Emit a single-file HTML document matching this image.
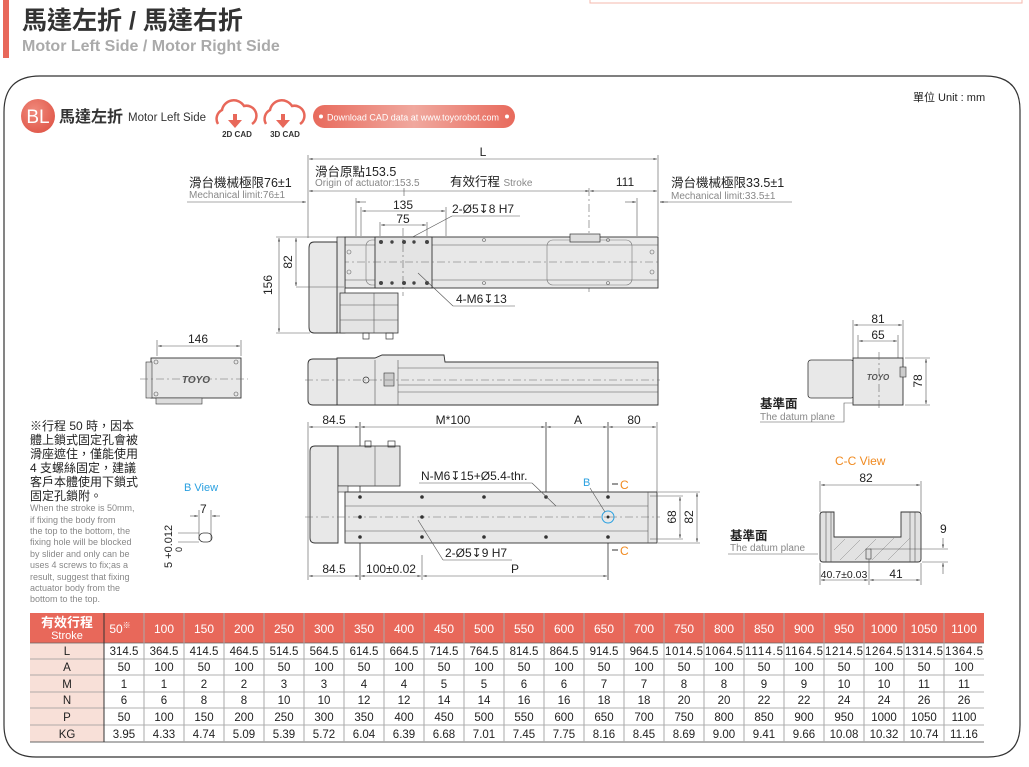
<!DOCTYPE html>
<html><head><meta charset="utf-8">
<style>
html,body{margin:0;padding:0;background:#fff;}
body{width:1029px;height:767px;overflow:hidden;position:relative;font-family:"Liberation Sans","Noto Sans CJK TC",sans-serif;}
svg{position:absolute;left:0;top:0;}
text{font-family:"Liberation Sans","Noto Sans CJK TC",sans-serif;}
.d{font-size:12px;fill:#222;}
.g{font-size:10px;fill:#888;}
.k{stroke:#333;stroke-width:0.8;fill:none;}
.t{stroke:#555;stroke-width:0.6;fill:none;}
.c{stroke:#666;stroke-width:0.6;fill:none;stroke-dasharray:8 3 2 3;}
.b{fill:#e8e8e8;stroke:#333;stroke-width:0.9;}
</style></head><body>
<svg width="1029" height="767" viewBox="0 0 1029 767">
<defs>
<linearGradient id="pill" x1="0" x2="1"><stop offset="0" stop-color="#e86a5c"/><stop offset="0.5" stop-color="#f0a89e"/><stop offset="1" stop-color="#e86a5c"/></linearGradient>
<radialGradient id="bl" cx="0.4" cy="0.35" r="0.7"><stop offset="0" stop-color="#f08a7c"/><stop offset="1" stop-color="#e0584a"/></radialGradient>
<marker id="a" viewBox="0 0 6 6" refX="6" refY="3" markerWidth="6" markerHeight="6" orient="auto-start-reverse"><path d="M0,1.5L6,3L0,4.5z" fill="#333"/></marker>
</defs>
<rect x="590" y="-2" width="432" height="5" fill="none" stroke="#f5b8ae" stroke-width="1"/>
<rect x="3" y="0" width="6" height="58" fill="#e8685a"/>
<text x="22" y="29" font-size="25" fill="#333" font-weight="bold">馬達左折 / 馬達右折</text>
<text x="22" y="51" font-size="16" fill="#aaa" font-weight="bold">Motor Left Side / Motor Right Side</text>
<path d="M40,76 H985 Q1020,76 1020,110 V725 Q1020,757 988,757 H36 Q4,757 4,725 V112 Q4,76 40,76 Z" fill="none" stroke="#333" stroke-width="1.2"/>
<circle cx="38" cy="116" r="17" fill="url(#bl)"/>
<text x="38" y="123" font-size="19" fill="#fff" text-anchor="middle">BL</text>
<text x="59" y="122" font-size="16" font-weight="bold" fill="#333">馬達左折</text>
<text x="128" y="121" font-size="11.5" fill="#333">Motor Left Side</text>
<g fill="none" stroke="#e8685a" stroke-width="2.5">
<path d="M218,124 a10,10 0 0 1 4,-14 a12,12 0 0 1 22,-4 a10,10 0 0 1 8,18"/>
<path d="M266,124 a10,10 0 0 1 4,-14 a12,12 0 0 1 22,-4 a10,10 0 0 1 8,18"/>
</g>
<path d="M228,116h5v-6h4v6h5l-7,8z" fill="#e8685a" transform="translate(0,4)"/>
<path d="M276,116h5v-6h4v6h5l-7,8z" fill="#e8685a" transform="translate(0,4)"/>
<text x="237" y="137" font-size="8" font-weight="bold" fill="#333" text-anchor="middle">2D CAD</text>
<text x="285" y="137" font-size="8" font-weight="bold" fill="#333" text-anchor="middle">3D CAD</text>
<rect x="313" y="105" width="202" height="23" rx="11.5" fill="url(#pill)"/>
<circle cx="321" cy="116.5" r="2" fill="#fff"/><circle cx="507" cy="116.5" r="2" fill="#fff"/>
<text x="327" y="120.5" font-size="9.5" fill="#fff" textLength="172" lengthAdjust="spacingAndGlyphs">Download CAD data at www.toyorobot.com</text>
<text x="913" y="101" font-size="11" fill="#222">單位 Unit : mm</text>

<!-- TOP VIEW -->
<line x1="308" y1="155" x2="308" y2="238" class="t"/>
<line x1="658" y1="155" x2="658" y2="236" class="t"/>
<line x1="309" y1="159" x2="657" y2="159" class="t" marker-start="url(#a)" marker-end="url(#a)"/>
<text x="483" y="156" class="d" text-anchor="middle">L</text>
<text x="315" y="176" font-size="12.5" fill="#222">滑台原點153.5</text>
<text x="315" y="186" class="g">Origin of actuator:153.5</text>
<line x1="309" y1="191" x2="589" y2="191" class="t" marker-start="url(#a)" marker-end="url(#a)"/>
<line x1="404" y1="188" x2="404" y2="196" class="t"/>
<text x="450" y="186" font-size="12.5" fill="#222">有效行程 <tspan font-size="10" fill="#888">Stroke</tspan></text>
<line x1="590" y1="191" x2="657" y2="191" class="t" marker-start="url(#a)" marker-end="url(#a)"/>
<line x1="589" y1="188" x2="589" y2="295" class="c"/>
<text x="625" y="186" class="d" text-anchor="middle">111</text>
<text x="189" y="187" font-size="12.5" fill="#222">滑台機械極限76±1</text>
<text x="189" y="198" class="g">Mechanical limit:76±1</text>
<line x1="187" y1="202" x2="306" y2="202" class="t" marker-end="url(#a)"/>
<text x="671" y="187" font-size="12.5" fill="#222">滑台機械極限33.5±1</text>
<text x="671" y="199" class="g">Mechanical limit:33.5±1</text>
<line x1="660" y1="202" x2="792" y2="202" class="t"/>
<line x1="668" y1="202" x2="660" y2="202" class="t" marker-end="url(#a)"/>
<line x1="625" y1="202" x2="636" y2="202" class="t" marker-end="url(#a)"/>
<line x1="637" y1="198" x2="637" y2="236" class="t"/>
<line x1="356" y1="202" x2="366" y2="202" class="t" marker-start="url(#a)"/>
<line x1="356" y1="198" x2="356" y2="236" class="t"/>
<line x1="362" y1="211" x2="445" y2="211" class="t" marker-start="url(#a)" marker-end="url(#a)"/>
<line x1="361" y1="207" x2="361" y2="236" class="t"/><line x1="446" y1="207" x2="446" y2="236" class="t"/>
<text x="403" y="209" class="d" text-anchor="middle">135</text>
<line x1="381" y1="225" x2="426" y2="225" class="t" marker-start="url(#a)" marker-end="url(#a)"/>
<line x1="380" y1="222" x2="380" y2="236" class="t"/><line x1="427" y1="222" x2="427" y2="236" class="t"/>
<text x="403" y="223" class="d" text-anchor="middle">75</text>
<text x="452" y="213" class="d">2-Ø5↧8 H7</text>
<line x1="452" y1="216" x2="520" y2="216" class="t"/><line x1="452" y1="216" x2="392" y2="248" class="t"/>
<rect x="345" y="237" width="313" height="51" class="b"/>
<line x1="345" y1="245" x2="658" y2="245" class="t"/><line x1="345" y1="280" x2="658" y2="280" class="t"/>
<rect x="366" y="240" width="44" height="45" rx="6" fill="none" stroke="#777" stroke-width="0.6"/>
<rect x="547" y="240" width="85" height="45" rx="6" fill="none" stroke="#777" stroke-width="0.6"/>
<rect x="375" y="237" width="57" height="51" fill="#e4e4e4" stroke="#333" stroke-width="0.9"/>
<rect x="570" y="234" width="30" height="8" fill="#ddd" stroke="#333" stroke-width="0.7"/>
<line x1="309" y1="262" x2="660" y2="262" class="c"/>
<line x1="403" y1="228" x2="403" y2="296" class="c"/>
<g fill="#444"><circle cx="381" cy="242" r="2"/><circle cx="392" cy="242" r="1.7"/><circle cx="404" cy="242" r="2"/><circle cx="414" cy="242" r="1.7"/><circle cx="427" cy="242" r="2"/>
<circle cx="381" cy="283" r="2"/><circle cx="392" cy="283" r="1.7"/><circle cx="404" cy="283" r="2"/><circle cx="414" cy="283" r="1.7"/><circle cx="427" cy="283" r="2"/></g>
<g fill="none" stroke="#666" stroke-width="0.6"><circle cx="484" cy="240" r="1.5"/><circle cx="484" cy="283" r="1.5"/><circle cx="608" cy="240" r="1.5"/><circle cx="608" cy="283" r="1.5"/><circle cx="349" cy="252" r="2"/><circle cx="349" cy="272" r="2"/><circle cx="652" cy="252" r="2"/><circle cx="652" cy="272" r="2"/></g>
<rect x="337" y="237" width="8" height="96" fill="#e4e4e4" stroke="#333" stroke-width="0.8"/>
<path d="M314,242 H337 V333 H314 Q309,333 309,327 V248 Q309,242 314,242 Z" fill="#e8e8e8" stroke="#333" stroke-width="0.9"/>
<rect x="340" y="293" width="58" height="40" fill="#e4e4e4" stroke="#333" stroke-width="0.8"/>
<line x1="374" y1="293" x2="374" y2="333" class="t"/><line x1="340" y1="305" x2="398" y2="305" class="t"/><line x1="340" y1="320" x2="398" y2="320" class="t"/>
<rect x="363" y="333" width="6" height="6" fill="none" stroke="#333" stroke-width="0.7"/><rect x="386" y="333" width="7" height="6" fill="none" stroke="#333" stroke-width="0.7"/>
<text x="456" y="303" class="d">4-M6↧13</text>
<line x1="453" y1="306" x2="515" y2="306" class="t"/><line x1="453" y1="306" x2="418" y2="273" class="t"/>
<line x1="276" y1="237" x2="344" y2="237" class="t"/><line x1="276" y1="333" x2="310" y2="333" class="t"/>
<line x1="296" y1="287" x2="344" y2="287" class="t"/>
<line x1="279" y1="238" x2="279" y2="332" class="t" marker-start="url(#a)" marker-end="url(#a)"/>
<line x1="296" y1="238" x2="296" y2="286" class="t" marker-start="url(#a)" marker-end="url(#a)"/>
<text transform="translate(272,285) rotate(-90)" class="d" text-anchor="middle">156</text>
<text transform="translate(292,262) rotate(-90)" class="d" text-anchor="middle">82</text>

<!-- SIDE VIEW -->
<path d="M337,358 H375 L382,355 H444 L445,362 H658 V405 H337 Z" fill="#e8e8e8" stroke="#333" stroke-width="0.9"/>
<line x1="375" y1="360" x2="375" y2="405" class="t"/><line x1="398" y1="360" x2="398" y2="405" class="t"/>
<line x1="398" y1="368" x2="658" y2="368" class="t"/><line x1="398" y1="385" x2="658" y2="385" class="t"/><line x1="398" y1="392" x2="658" y2="392" class="t"/>
<path d="M313,359 H337 V405 H313 Q308,405 308,400 V364 Q308,359 313,359 Z" fill="#e8e8e8" stroke="#333" stroke-width="0.9"/>
<rect x="384" y="373" width="10" height="13" fill="#ccc" stroke="#333" stroke-width="0.6"/>
<circle cx="366" cy="380" r="3" fill="none" stroke="#333" stroke-width="0.7"/>
<line x1="305" y1="380" x2="660" y2="380" class="c"/>

<!-- left small view -->
<line x1="157" y1="340" x2="157" y2="356" class="t"/><line x1="241" y1="340" x2="241" y2="356" class="t"/>
<line x1="158" y1="346" x2="240" y2="346" class="t" marker-start="url(#a)" marker-end="url(#a)"/>
<text x="198" y="343" class="d" text-anchor="middle">146</text>
<rect x="151" y="358" width="90" height="40" fill="#e8e8e8" stroke="#333" stroke-width="0.9"/>
<rect x="146" y="362" width="6" height="36" fill="#ddd" stroke="#333" stroke-width="0.6"/>
<rect x="156" y="398" width="46" height="6" fill="#ddd" stroke="#333" stroke-width="0.6"/>
<g fill="none" stroke="#555" stroke-width="0.6"><circle cx="156" cy="362" r="2"/><circle cx="236" cy="362" r="2"/><circle cx="156" cy="394" r="2"/><circle cx="236" cy="394" r="2"/></g>
<text x="196" y="383" font-size="10" font-style="italic" font-weight="bold" fill="#555" text-anchor="middle">TOYO</text>
<line x1="140" y1="379" x2="248" y2="379" class="c"/>

<g font-size="12" fill="#222">
<text x="30" y="430">※行程 50 時，因本</text>
<text x="30" y="444">體上鎖式固定孔會被</text>
<text x="30" y="458">滑座遮住，僅能使用</text>
<text x="30" y="472">4 支螺絲固定，建議</text>
<text x="30" y="486">客戶本體使用下鎖式</text>
<text x="30" y="500">固定孔鎖附。</text>
</g>
<g font-size="9" fill="#888">
<text x="30" y="511">When the stroke is 50mm,</text>
<text x="30" y="523">if fixing the body from</text>
<text x="30" y="534">the top to the bottom, the</text>
<text x="30" y="545">fixing hole will be blocked</text>
<text x="30" y="557">by slider and only can be</text>
<text x="30" y="568">uses 4 screws to fix;as a</text>
<text x="30" y="580">result, suggest that fixing</text>
<text x="30" y="591">actuator body from the</text>
<text x="30" y="602">bottom to the top.</text>
</g>
<text x="184" y="491" font-size="11" fill="#2aa0e0">B View</text>
<text x="200" y="513" class="d">7</text>
<line x1="199" y1="510" x2="199" y2="540" class="t"/><line x1="211" y1="510" x2="211" y2="540" class="t"/>
<line x1="190" y1="516" x2="198" y2="516" class="t" marker-end="url(#a)"/><line x1="220" y1="516" x2="212" y2="516" class="t" marker-end="url(#a)"/>
<rect x="199" y="533" width="13" height="9" rx="4.5" fill="none" stroke="#333" stroke-width="0.8"/>
<line x1="178" y1="533" x2="199" y2="533" class="t"/><line x1="178" y1="542" x2="199" y2="542" class="t"/>
<text transform="translate(172,568) rotate(-90)" font-size="11" fill="#222">5 +0.012</text>
<text transform="translate(182,552) rotate(-90)" font-size="9" fill="#222">0</text>

<!-- BOTTOM VIEW -->
<line x1="308" y1="422" x2="308" y2="580" class="t"/>
<line x1="360" y1="422" x2="360" y2="580" class="k"/>
<line x1="422" y1="555" x2="422" y2="580" class="t"/>
<line x1="546" y1="422" x2="546" y2="492" class="k"/>
<line x1="608" y1="422" x2="608" y2="580" class="k"/>
<line x1="657" y1="422" x2="657" y2="492" class="t"/>
<line x1="309" y1="427" x2="359" y2="427" class="t" marker-start="url(#a)" marker-end="url(#a)"/>
<line x1="361" y1="427" x2="545" y2="427" class="t" marker-start="url(#a)" marker-end="url(#a)"/>
<line x1="547" y1="427" x2="607" y2="427" class="t" marker-start="url(#a)" marker-end="url(#a)"/>
<line x1="609" y1="427" x2="656" y2="427" class="t" marker-start="url(#a)" marker-end="url(#a)"/>
<text x="334" y="424" class="d" text-anchor="middle">84.5</text>
<text x="453" y="424" class="d" text-anchor="middle">M*100</text>
<text x="578" y="424" class="d" text-anchor="middle">A</text>
<text x="634" y="424" class="d" text-anchor="middle">80</text>
<path d="M315,446 H338 V543 H315 Q310,543 310,538 V451 Q310,446 315,446 Z" fill="#e8e8e8" stroke="#333" stroke-width="0.9"/>
<rect x="338" y="446" width="62" height="40" fill="#e4e4e4" stroke="#333" stroke-width="0.8"/>
<line x1="375" y1="446" x2="375" y2="486" class="t"/>
<rect x="365" y="441" width="6" height="6" fill="none" stroke="#333" stroke-width="0.7"/><rect x="388" y="441" width="7" height="6" fill="none" stroke="#333" stroke-width="0.7"/>
<rect x="338" y="486" width="10" height="6" fill="#e4e4e4" stroke="#333" stroke-width="0.6"/>
<rect x="345" y="492" width="312" height="51" fill="#e8e8e8" stroke="#333" stroke-width="0.9"/>
<line x1="345" y1="506" x2="648" y2="506" class="t"/><line x1="345" y1="531" x2="648" y2="531" class="t"/><line x1="648" y1="492" x2="648" y2="543" class="t"/>
<line x1="305" y1="517" x2="660" y2="517" class="c"/>
<g fill="#333"><circle cx="360" cy="497" r="1.8"/><circle cx="422" cy="497" r="1.8"/><circle cx="484" cy="497" r="1.8"/><circle cx="546" cy="497" r="1.8"/><circle cx="608" cy="497" r="1.8"/>
<circle cx="360" cy="537" r="1.8"/><circle cx="422" cy="537" r="1.8"/><circle cx="484" cy="537" r="1.8"/><circle cx="546" cy="537" r="1.8"/><circle cx="608" cy="537" r="1.8"/>
<circle cx="360" cy="517" r="1.8"/><circle cx="422" cy="517" r="1.8"/><circle cx="608" cy="517" r="1.5"/></g>
<circle cx="608" cy="517" r="6" fill="none" stroke="#2aa0e0" stroke-width="1"/>
<text x="583" y="486" font-size="11" fill="#2aa0e0">B</text><line x1="590" y1="488" x2="605" y2="512" class="t"/>
<text x="620" y="489" font-size="12" fill="#f08a20">C</text><text x="620" y="555" font-size="12" fill="#f08a20">C</text>
<line x1="612" y1="484" x2="618" y2="484" stroke="#333"/><line x1="612" y1="550" x2="618" y2="550" stroke="#333"/>
<text x="421" y="480" class="d">N-M6↧15+Ø5.4-thr.</text>
<line x1="419" y1="483" x2="532" y2="483" class="t"/><line x1="532" y1="483" x2="556" y2="506" class="t"/>
<text x="445" y="557" class="d">2-Ø5↧9 H7</text>
<line x1="443" y1="560" x2="512" y2="560" class="t"/><line x1="443" y1="560" x2="418" y2="520" class="t"/>
<line x1="309" y1="576" x2="359" y2="576" class="t" marker-start="url(#a)" marker-end="url(#a)"/>
<line x1="361" y1="576" x2="421" y2="576" class="t" marker-start="url(#a)" marker-end="url(#a)"/>
<line x1="423" y1="576" x2="607" y2="576" class="t" marker-start="url(#a)" marker-end="url(#a)"/>
<text x="334" y="573" class="d" text-anchor="middle">84.5</text>
<text x="391" y="573" class="d" text-anchor="middle">100±0.02</text>
<text x="515" y="573" class="d" text-anchor="middle">P</text>
<line x1="658" y1="492" x2="700" y2="492" class="t"/><line x1="658" y1="543" x2="700" y2="543" class="t"/>
<line x1="650" y1="496" x2="683" y2="496" class="t"/><line x1="650" y1="539" x2="683" y2="539" class="t"/>
<line x1="680" y1="497" x2="680" y2="538" class="t" marker-start="url(#a)" marker-end="url(#a)"/>
<line x1="697" y1="493" x2="697" y2="542" class="t" marker-start="url(#a)" marker-end="url(#a)"/>
<text transform="translate(676,517) rotate(-90)" class="d" text-anchor="middle">68</text>
<text transform="translate(693,517) rotate(-90)" class="d" text-anchor="middle">82</text>

<!-- RIGHT END VIEW -->
<line x1="853" y1="320" x2="853" y2="358" class="t"/><line x1="903" y1="320" x2="903" y2="358" class="t"/>
<line x1="858" y1="335" x2="858" y2="358" class="t"/><line x1="898" y1="335" x2="898" y2="358" class="t"/>
<line x1="854" y1="325" x2="902" y2="325" class="t" marker-start="url(#a)" marker-end="url(#a)"/>
<line x1="859" y1="341" x2="897" y2="341" class="t" marker-start="url(#a)" marker-end="url(#a)"/>
<text x="878" y="323" class="d" text-anchor="middle">81</text>
<text x="878" y="339" class="d" text-anchor="middle">65</text>
<rect x="808" y="360" width="46" height="38" rx="3" fill="#e8e8e8" stroke="#333" stroke-width="0.8"/>
<rect x="853" y="358" width="50" height="47" fill="#e8e8e8" stroke="#333" stroke-width="0.9"/>
<rect x="900" y="367" width="6" height="10" fill="#ccc" stroke="#333" stroke-width="0.6"/>
<text x="878" y="380" font-size="8" font-style="italic" font-weight="bold" fill="#555" text-anchor="middle">TOYO</text>
<line x1="879" y1="352" x2="879" y2="408" class="c"/>
<line x1="905" y1="358" x2="930" y2="358" class="t"/><line x1="905" y1="405" x2="930" y2="405" class="t"/>
<line x1="926" y1="359" x2="926" y2="404" class="t" marker-start="url(#a)" marker-end="url(#a)"/>
<text transform="translate(922,381) rotate(-90)" class="d" text-anchor="middle">78</text>
<text x="760" y="408" font-size="12.5" fill="#222" font-weight="bold">基準面</text>
<text x="760" y="420" class="g">The datum plane</text>
<polyline points="760,422 844,422 844,403 853,403" class="t"/>

<!-- C-C VIEW -->
<text x="835" y="465" font-size="12" fill="#f08a20">C-C View</text>
<line x1="820" y1="481" x2="820" y2="512" class="t"/><line x1="921" y1="481" x2="921" y2="512" class="t"/>
<line x1="821" y1="485" x2="920" y2="485" class="t" marker-start="url(#a)" marker-end="url(#a)"/>
<text x="866" y="482" class="d" text-anchor="middle">82</text>
<path d="M820,515 Q820,512 823,512 H834 V537 H901 V512 H918 Q921,512 921,515 V559 Q921,562 918,562 H823 Q820,562 820,559 Z" fill="#e2e2e2" stroke="#333" stroke-width="0.9"/>
<line x1="826" y1="512" x2="826" y2="562" class="t"/><line x1="831" y1="512" x2="831" y2="562" class="t"/>
<line x1="910" y1="512" x2="910" y2="562" class="t"/><line x1="915" y1="512" x2="915" y2="562" class="t"/>
<g stroke="#888" stroke-width="0.5">
<line x1="840" y1="560" x2="860" y2="540"/><line x1="855" y1="560" x2="876" y2="539"/><line x1="872" y1="560" x2="894" y2="538"/><line x1="888" y1="560" x2="910" y2="538"/><line x1="834" y1="550" x2="845" y2="539"/>
</g>
<rect x="866" y="549" width="5" height="10" fill="#ddd" stroke="#333" stroke-width="0.6"/>
<line x1="869" y1="559" x2="869" y2="585" class="t"/>
<line x1="820" y1="563" x2="820" y2="585" class="t"/><line x1="921" y1="563" x2="921" y2="585" class="t"/>
<line x1="821" y1="580" x2="868" y2="580" class="t" marker-start="url(#a)" marker-end="url(#a)"/>
<line x1="870" y1="580" x2="920" y2="580" class="t" marker-start="url(#a)" marker-end="url(#a)"/>
<text x="844" y="578" font-size="10.5" fill="#222" text-anchor="middle">40.7±0.03</text>
<text x="896" y="578" class="d" text-anchor="middle">41</text>
<line x1="870" y1="549" x2="948" y2="549" class="t"/><line x1="922" y1="562" x2="948" y2="562" class="t"/>
<line x1="943" y1="538" x2="943" y2="548" class="t" marker-end="url(#a)"/><line x1="943" y1="574" x2="943" y2="563" class="t" marker-end="url(#a)"/>
<text x="940" y="533" class="d">9</text>
<text x="730" y="540" font-size="12.5" fill="#222" font-weight="bold">基準面</text>
<text x="730" y="551" class="g">The datum plane</text>
<line x1="728" y1="554" x2="818" y2="554" class="t"/>

<!-- TABLE -->
<rect x="30" y="613" width="954" height="30" fill="#e8685a"/>
<rect x="30" y="643" width="74" height="99" fill="#f8e0d8"/>
<text x="67" y="627" font-size="13" fill="#fff" text-anchor="middle" font-weight="bold">有效行程</text>
<text x="67" y="639" font-size="11" fill="#fff" text-anchor="middle">Stroke</text>
<g stroke="#999" stroke-width="0.8">
<line x1="30" y1="659" x2="984" y2="659"/><line x1="30" y1="675" x2="984" y2="675"/><line x1="30" y1="692" x2="984" y2="692"/><line x1="30" y1="708" x2="984" y2="708"/><line x1="30" y1="725" x2="984" y2="725"/>
</g>
<line x1="30" y1="742" x2="984" y2="742" stroke="#666" stroke-width="1"/>
<line x1="30" y1="643" x2="984" y2="643" stroke="#666" stroke-width="0.8"/>
<g font-size="11.5" fill="#222" text-anchor="middle">
<text x="67" y="655">L</text><text x="67" y="671">A</text><text x="67" y="688">M</text><text x="67" y="704">N</text><text x="67" y="721">P</text><text x="67" y="738">KG</text>
</g>
<line x1="104" y1="613" x2="104" y2="742" stroke="#333" stroke-width="1"/>
<g stroke="#aaa" stroke-width="1">
<line x1="144" y1="613" x2="144" y2="742"/><line x1="184" y1="613" x2="184" y2="742"/><line x1="224" y1="613" x2="224" y2="742"/><line x1="264" y1="613" x2="264" y2="742"/><line x1="304" y1="613" x2="304" y2="742"/><line x1="344" y1="613" x2="344" y2="742"/><line x1="384" y1="613" x2="384" y2="742"/><line x1="424" y1="613" x2="424" y2="742"/><line x1="464" y1="613" x2="464" y2="742"/><line x1="504" y1="613" x2="504" y2="742"/><line x1="544" y1="613" x2="544" y2="742"/><line x1="584" y1="613" x2="584" y2="742"/><line x1="624" y1="613" x2="624" y2="742"/><line x1="664" y1="613" x2="664" y2="742"/><line x1="704" y1="613" x2="704" y2="742"/><line x1="744" y1="613" x2="744" y2="742"/><line x1="784" y1="613" x2="784" y2="742"/><line x1="824" y1="613" x2="824" y2="742"/><line x1="864" y1="613" x2="864" y2="742"/><line x1="904" y1="613" x2="904" y2="742"/><line x1="944" y1="613" x2="944" y2="742"/>
</g>
<g font-size="12" fill="#fff" text-anchor="middle">
<text x="120" y="633">50<tspan font-size="8" dy="-5">※</tspan></text><text x="164" y="633">100</text><text x="204" y="633">150</text><text x="244" y="633">200</text><text x="284" y="633">250</text><text x="324" y="633">300</text><text x="364" y="633">350</text><text x="404" y="633">400</text><text x="444" y="633">450</text><text x="484" y="633">500</text><text x="524" y="633">550</text><text x="564" y="633">600</text><text x="604" y="633">650</text><text x="644" y="633">700</text><text x="684" y="633">750</text><text x="724" y="633">800</text><text x="764" y="633">850</text><text x="804" y="633">900</text><text x="844" y="633">950</text><text x="884" y="633">1000</text><text x="924" y="633">1050</text><text x="964" y="633">1100</text>
</g>
<g font-size="11.5" fill="#222" text-anchor="middle">
<text x="124" y="655">314.5</text><text x="164" y="655">364.5</text><text x="204" y="655">414.5</text><text x="244" y="655">464.5</text><text x="284" y="655">514.5</text><text x="324" y="655">564.5</text><text x="364" y="655">614.5</text><text x="404" y="655">664.5</text><text x="444" y="655">714.5</text><text x="484" y="655">764.5</text><text x="524" y="655">814.5</text><text x="564" y="655">864.5</text><text x="604" y="655">914.5</text><text x="644" y="655">964.5</text><text x="684" y="655" textLength="38">1014.5</text><text x="724" y="655" textLength="38">1064.5</text><text x="764" y="655" textLength="38">1114.5</text><text x="804" y="655" textLength="38">1164.5</text><text x="844" y="655" textLength="38">1214.5</text><text x="884" y="655" textLength="38">1264.5</text><text x="924" y="655" textLength="38">1314.5</text><text x="964" y="655" textLength="38">1364.5</text>
<text x="124" y="671">50</text><text x="164" y="671">100</text><text x="204" y="671">50</text><text x="244" y="671">100</text><text x="284" y="671">50</text><text x="324" y="671">100</text><text x="364" y="671">50</text><text x="404" y="671">100</text><text x="444" y="671">50</text><text x="484" y="671">100</text><text x="524" y="671">50</text><text x="564" y="671">100</text><text x="604" y="671">50</text><text x="644" y="671">100</text><text x="684" y="671">50</text><text x="724" y="671">100</text><text x="764" y="671">50</text><text x="804" y="671">100</text><text x="844" y="671">50</text><text x="884" y="671">100</text><text x="924" y="671">50</text><text x="964" y="671">100</text>
<text x="124" y="688">1</text><text x="164" y="688">1</text><text x="204" y="688">2</text><text x="244" y="688">2</text><text x="284" y="688">3</text><text x="324" y="688">3</text><text x="364" y="688">4</text><text x="404" y="688">4</text><text x="444" y="688">5</text><text x="484" y="688">5</text><text x="524" y="688">6</text><text x="564" y="688">6</text><text x="604" y="688">7</text><text x="644" y="688">7</text><text x="684" y="688">8</text><text x="724" y="688">8</text><text x="764" y="688">9</text><text x="804" y="688">9</text><text x="844" y="688">10</text><text x="884" y="688">10</text><text x="924" y="688">11</text><text x="964" y="688">11</text>
<text x="124" y="704">6</text><text x="164" y="704">6</text><text x="204" y="704">8</text><text x="244" y="704">8</text><text x="284" y="704">10</text><text x="324" y="704">10</text><text x="364" y="704">12</text><text x="404" y="704">12</text><text x="444" y="704">14</text><text x="484" y="704">14</text><text x="524" y="704">16</text><text x="564" y="704">16</text><text x="604" y="704">18</text><text x="644" y="704">18</text><text x="684" y="704">20</text><text x="724" y="704">20</text><text x="764" y="704">22</text><text x="804" y="704">22</text><text x="844" y="704">24</text><text x="884" y="704">24</text><text x="924" y="704">26</text><text x="964" y="704">26</text>
<text x="124" y="721">50</text><text x="164" y="721">100</text><text x="204" y="721">150</text><text x="244" y="721">200</text><text x="284" y="721">250</text><text x="324" y="721">300</text><text x="364" y="721">350</text><text x="404" y="721">400</text><text x="444" y="721">450</text><text x="484" y="721">500</text><text x="524" y="721">550</text><text x="564" y="721">600</text><text x="604" y="721">650</text><text x="644" y="721">700</text><text x="684" y="721">750</text><text x="724" y="721">800</text><text x="764" y="721">850</text><text x="804" y="721">900</text><text x="844" y="721">950</text><text x="884" y="721">1000</text><text x="924" y="721">1050</text><text x="964" y="721">1100</text>
<text x="124" y="738">3.95</text><text x="164" y="738">4.33</text><text x="204" y="738">4.74</text><text x="244" y="738">5.09</text><text x="284" y="738">5.39</text><text x="324" y="738">5.72</text><text x="364" y="738">6.04</text><text x="404" y="738">6.39</text><text x="444" y="738">6.68</text><text x="484" y="738">7.01</text><text x="524" y="738">7.45</text><text x="564" y="738">7.75</text><text x="604" y="738">8.16</text><text x="644" y="738">8.45</text><text x="684" y="738">8.69</text><text x="724" y="738">9.00</text><text x="764" y="738">9.41</text><text x="804" y="738">9.66</text><text x="844" y="738">10.08</text><text x="884" y="738">10.32</text><text x="924" y="738">10.74</text><text x="964" y="738">11.16</text>
</g>
</svg>
</body></html>
